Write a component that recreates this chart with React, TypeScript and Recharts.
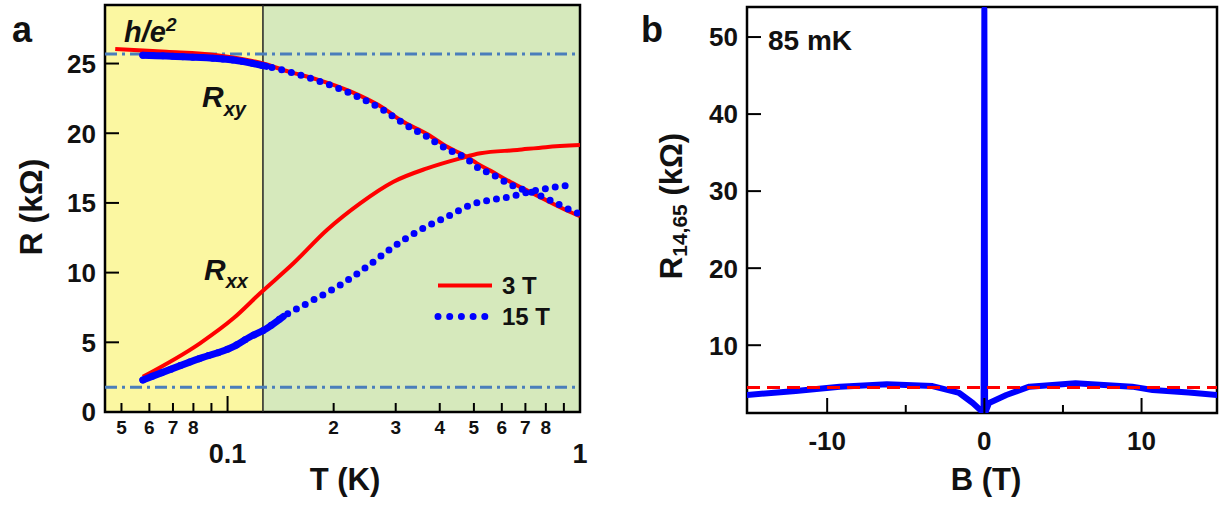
import { LineChart, Line, XAxis, YAxis, ReferenceArea, ReferenceLine, Legend } from "recharts";

const FONT = '"Liberation Sans", Arial, Helvetica, sans-serif';

// ─── Panel a: R(T) at 3 T and 15 T ─────────────────────────────────────────────

const T_3T_XY = [0.048, 0.0671, 0.0932, 0.126, 0.15, 0.18, 0.223, 0.277, 0.309, 0.368, 0.42, 0.478, 0.51, 0.558, 0.635, 0.74, 0.822, 0.938, 1.0];
const RXY_3T = [26.05, 25.85, 25.6, 25.0, 24.4, 23.85, 23.0, 21.8, 20.95, 19.95, 19.03, 18.3, 17.84, 17.3, 16.5, 15.65, 15.05, 14.35, 14.05];

const T_3T_XX = [0.0575, 0.0835, 0.1039, 0.1237, 0.1538, 0.1914, 0.2378, 0.2956, 0.368, 0.4575, 0.5217, 0.6637, 0.8, 1.0];
const RXX_3T = [2.53, 4.93, 6.72, 8.52, 10.67, 13.06, 14.97, 16.52, 17.48, 18.2, 18.56, 18.8, 19.0, 19.15];

const T_15T_XY = [0.0575, 0.0749, 0.1038, 0.129, 0.15, 0.179, 0.223, 0.277, 0.316, 0.341, 0.368, 0.392, 0.424, 0.4575, 0.4887, 0.515, 0.558, 0.635, 0.74, 0.822, 0.938, 1.0];
const RXY_15T = [25.6, 25.49, 25.25, 24.8, 24.4, 23.8, 22.86, 21.66, 20.7, 20.2, 19.75, 19.3, 18.8, 18.44, 17.96, 17.5, 17.1, 16.3, 15.7, 15.2, 14.5, 14.2];

const T_15T_XX = [0.0575, 0.0835, 0.1039, 0.116, 0.127, 0.144, 0.1715, 0.2087, 0.2485, 0.2956, 0.352, 0.4195, 0.4887, 0.634, 0.75, 0.9375];
const RXX_15T = [2.3, 3.85, 4.69, 5.4, 5.88, 6.85, 7.91, 9.11, 10.42, 11.86, 13.06, 14.01, 14.85, 15.45, 15.9, 16.28];

// below these temperatures the 15 T points are so dense they read as a solid line
const DENSE_XY_MAX_T = 0.13;
const DENSE_XX_MAX_T = 0.145;

const H_OVER_E2 = 25.68;
const LOW_LEVEL = 1.78;
const T_BOUNDARY = 0.126;

const T_DOMAIN: [number, number] = [0.0449, 1];
const R_DOMAIN: [number, number] = [0, 29.2];
const T_TICKS = [0.05, 0.06, 0.07, 0.08, 0.09, 0.1, 0.2, 0.3, 0.4, 0.5, 0.6, 0.7, 0.8, 0.9, 1];
const T_TICK_LABELS = ["5", "6", "7", "8", "", "0.1", "2", "3", "4", "5", "6", "7", "8", "", "1"];
const R_TICKS = [0, 5, 10, 15, 20, 25];

// ─── Panel b: R14,65(B) at 85 mK ───────────────────────────────────────────────

const B_VALUES = [-15.1, -12, -9.2, -6.2, -3.3, -1.6, -0.74, -0.05, 0, 0.05, 0.3, 1.4, 2.86, 5.8, 9.4, 10.7, 13, 14.8];
const R14_VALUES = [3.54, 4.05, 4.62, 4.93, 4.7, 3.8, 2.5, 1.2, 53.6, 1.2, 2.5, 3.54, 4.62, 5.06, 4.62, 4.19, 3.85, 3.54];
const R14_REFERENCE = 4.5;

const B_DOMAIN: [number, number] = [-15.1, 14.8];
const R14_DOMAIN: [number, number] = [1.2, 53.9];
const B_TICKS = [-10, -5, 0, 5, 10];
const B_TICK_LABELS = ["-10", "", "0", "", "10"];
const R14_TICKS = [10, 20, 30, 40, 50];

const zipT = (ts: number[], rs: number[]) => ts.map((T, i) => ({ T, R: rs[i] }));

const rxy3 = zipT(T_3T_XY, RXY_3T);
const rxx3 = zipT(T_3T_XX, RXX_3T);
const rxy15 = zipT(T_15T_XY, RXY_15T);
const rxx15 = zipT(T_15T_XX, RXX_15T);
const panelB = B_VALUES.map((B, i) => ({ B, R: R14_VALUES[i] }));

const RED = "#ff0000";
const BLUE = "#0000ff";
const DASHDOT = "#4a7ebb";

// ─── Ticks (drawn inward like the original) ────────────────────────────────────

function TTick(props: any) {
  const { x, y, payload } = props;
  const i = T_TICKS.indexOf(payload.value);
  const label = T_TICK_LABELS[i] ?? "";
  const major = label === "0.1" || label === "1";
  return (
    <g>
      <line x1={x} x2={x} y1={y} y2={y - (major ? 16 : 9)} stroke="#000" strokeWidth={2} />
      {label && (
        <text
          x={x}
          y={major ? y + 51 : y + 22}
          textAnchor="middle"
          fontFamily={FONT}
          fontWeight="bold"
          fontSize={major ? 27 : 19}
          fill="#111"
        >
          {label}
        </text>
      )}
    </g>
  );
}

function BTick(props: any) {
  const { x, y, payload } = props;
  const i = B_TICKS.indexOf(payload.value);
  const label = B_TICK_LABELS[i] ?? "";
  return (
    <g>
      <line x1={x} x2={x} y1={y} y2={y - (label ? 15 : 8)} stroke="#000" strokeWidth={2} />
      {label && (
        <text x={x} y={y + 37} textAnchor="middle" fontFamily={FONT} fontWeight="bold" fontSize={26} fill="#111">
          {label}
        </text>
      )}
    </g>
  );
}

function LeftTick(props: any) {
  const { x, y, payload } = props;
  return (
    <g>
      <line x1={x} x2={x + 14} y1={y} y2={y} stroke="#000" strokeWidth={2} />
      <text x={x - 9} y={y} dy="0.36em" textAnchor="end" fontFamily={FONT} fontWeight="bold" fontSize={26} fill="#111">
        {payload.value}
      </text>
    </g>
  );
}

function FieldLegend() {
  const row = { display: "flex", alignItems: "center", height: 31 } as const;
  const text = { fontFamily: FONT, fontWeight: "bold", fontSize: 24, color: "#111", marginLeft: 8 } as const;
  return (
    <div>
      <div style={row}>
        <svg width={60} height={31}>
          <line x1={4} x2={58} y1={15.5} y2={15.5} stroke={RED} strokeWidth={4} />
        </svg>
        <span style={text}>3 T</span>
      </div>
      <div style={row}>
        <svg width={60} height={31}>
          <line x1={4} x2={54} y1={15.5} y2={15.5} stroke={BLUE} strokeWidth={7} strokeLinecap="round" strokeDasharray="0 11.7" />
        </svg>
        <span style={text}>15 T</span>
      </div>
    </div>
  );
}

// ─── Panels ────────────────────────────────────────────────────────────────────

function PanelA() {
  return (
    <LineChart width={600} height={506} margin={{ top: 5, right: 20, bottom: 4, left: 5 }}>
      <XAxis
        dataKey="T"
        type="number"
        scale="log"
        domain={T_DOMAIN}
        allowDataOverflow
        ticks={T_TICKS}
        interval={0}
        tick={<TTick />}
        tickSize={0}
        tickMargin={0}
        tickLine={false}
        axisLine={false}
        height={90}
      />
      <YAxis
        type="number"
        domain={R_DOMAIN}
        allowDataOverflow
        ticks={R_TICKS}
        interval={0}
        tick={<LeftTick />}
        tickSize={0}
        tickMargin={0}
        tickLine={false}
        axisLine={false}
        width={100}
      />
      <ReferenceArea x1={T_DOMAIN[0]} x2={T_BOUNDARY} y1={R_DOMAIN[0]} y2={R_DOMAIN[1]} fill="#fbf7a1" fillOpacity={1} stroke="none" />
      <ReferenceArea x1={T_BOUNDARY} x2={T_DOMAIN[1]} y1={R_DOMAIN[0]} y2={R_DOMAIN[1]} fill="#d6e9bc" fillOpacity={1} stroke="none" />
      <ReferenceLine x={T_BOUNDARY} stroke="#222" strokeWidth={1.5} />
      <ReferenceLine y={H_OVER_E2} stroke={DASHDOT} strokeWidth={3} strokeDasharray="12 5 3 5" />
      <ReferenceLine y={LOW_LEVEL} stroke={DASHDOT} strokeWidth={3} strokeDasharray="12 5 3 5" />
      <Line data={rxy3} dataKey="R" type="monotone" stroke={RED} strokeWidth={4} dot={false} isAnimationActive={false} legendType="none" />
      <Line data={rxx3} dataKey="R" type="monotone" stroke={RED} strokeWidth={4} dot={false} isAnimationActive={false} legendType="none" />
      <Line
        data={rxy15.filter((p) => p.T <= DENSE_XY_MAX_T)}
        dataKey="R"
        type="monotone"
        stroke={BLUE}
        strokeWidth={7}
        strokeLinecap="round"
        dot={false}
        isAnimationActive={false}
        legendType="none"
      />
      <Line
        data={rxy15}
        dataKey="R"
        type="monotone"
        stroke={BLUE}
        strokeWidth={7}
        strokeLinecap="round"
        strokeDasharray="0 10"
        dot={false}
        isAnimationActive={false}
        legendType="none"
      />
      <Line
        data={rxx15.filter((p) => p.T <= DENSE_XX_MAX_T)}
        dataKey="R"
        type="monotone"
        stroke={BLUE}
        strokeWidth={7}
        strokeLinecap="round"
        dot={false}
        isAnimationActive={false}
        legendType="none"
      />
      <Line
        data={rxx15}
        dataKey="R"
        type="monotone"
        stroke={BLUE}
        strokeWidth={7}
        strokeLinecap="round"
        strokeDasharray="0 10"
        dot={false}
        isAnimationActive={false}
        legendType="none"
      />
      <ReferenceArea x1={T_DOMAIN[0]} x2={T_DOMAIN[1]} y1={R_DOMAIN[0]} y2={R_DOMAIN[1]} fill="none" stroke="#000" strokeWidth={2.5} />
      <Legend
        layout="horizontal"
        verticalAlign="middle"
        align="center"
        content={() => <FieldLegend />}
        wrapperStyle={{ left: 434, top: 270, width: 130 }}
      />
    </LineChart>
  );
}

function PanelB() {
  return (
    <LineChart width={601} height={506} margin={{ top: 7, right: 4, bottom: 3, left: 7 }}>
      <XAxis
        dataKey="B"
        type="number"
        domain={B_DOMAIN}
        allowDataOverflow
        ticks={B_TICKS}
        interval={0}
        tick={<BTick />}
        tickSize={0}
        tickMargin={0}
        tickLine={false}
        axisLine={false}
        height={90}
      />
      <YAxis
        type="number"
        domain={R14_DOMAIN}
        allowDataOverflow
        ticks={R14_TICKS}
        interval={0}
        tick={<LeftTick />}
        tickSize={0}
        tickMargin={0}
        tickLine={false}
        axisLine={false}
        width={120}
      />
      <Line data={panelB} dataKey="R" type="linear" stroke={BLUE} strokeWidth={6} strokeLinecap="round" strokeLinejoin="round" dot={false} isAnimationActive={false} />
      <ReferenceLine y={R14_REFERENCE} stroke={RED} strokeWidth={3} strokeDasharray="13 7" />
      <ReferenceArea x1={B_DOMAIN[0]} x2={B_DOMAIN[1]} y1={R14_DOMAIN[0]} y2={R14_DOMAIN[1]} fill="none" stroke="#000" strokeWidth={2.5} />
    </LineChart>
  );
}

// ─── Annotations (panel letters, axis titles, curve labels) ────────────────────

function Annotations() {
  const bold = { fontFamily: FONT, fontWeight: "bold" as const, fill: "#111" };
  return (
    <svg width={1221} height={506} style={{ position: "absolute", left: 0, top: 0, pointerEvents: "none" }}>
      <text x={12} y={42} fontSize={36} {...bold}>a</text>
      <text x={641} y={42} fontSize={36} {...bold}>b</text>

      <text x={124} y={42} fontSize={29} fontStyle="italic" {...bold}>
        h/e<tspan fontSize={19} dy={-11}>2</tspan>
      </text>
      <text x={202} y={107} fontSize={30} fontStyle="italic" {...bold}>
        R<tspan fontSize={20} dy={9}>xy</tspan>
      </text>
      <text x={204} y={280} fontSize={30} fontStyle="italic" {...bold}>
        R<tspan fontSize={20} dy={8}>xx</tspan>
      </text>

      <text transform="translate(42,207) rotate(-90)" textAnchor="middle" fontSize={32} {...bold}>
        R (kΩ)
      </text>
      <text x={345} y={490} textAnchor="middle" fontSize={31} {...bold}>
        T (K)
      </text>

      <text x={768} y={50} fontSize={28} {...bold}>85 mK</text>
      <text transform="translate(682,206) rotate(-90)" textAnchor="middle" fontSize={31} {...bold}>
        R<tspan fontSize={21} dy={5}>14,65</tspan>
        <tspan dy={-5}> (kΩ)</tspan>
      </text>
      <text x={986} y={490} textAnchor="middle" fontSize={31} {...bold}>
        B (T)
      </text>
    </svg>
  );
}

export default function App() {
  return (
    <div style={{ position: "absolute", left: 0, top: 0, width: 1221, height: 506, background: "#fff" }}>
      <div style={{ position: "absolute", left: 0, top: 0 }}>
        <PanelA />
      </div>
      <div style={{ position: "absolute", left: 620, top: 0 }}>
        <PanelB />
      </div>
      <Annotations />
    </div>
  );
}
